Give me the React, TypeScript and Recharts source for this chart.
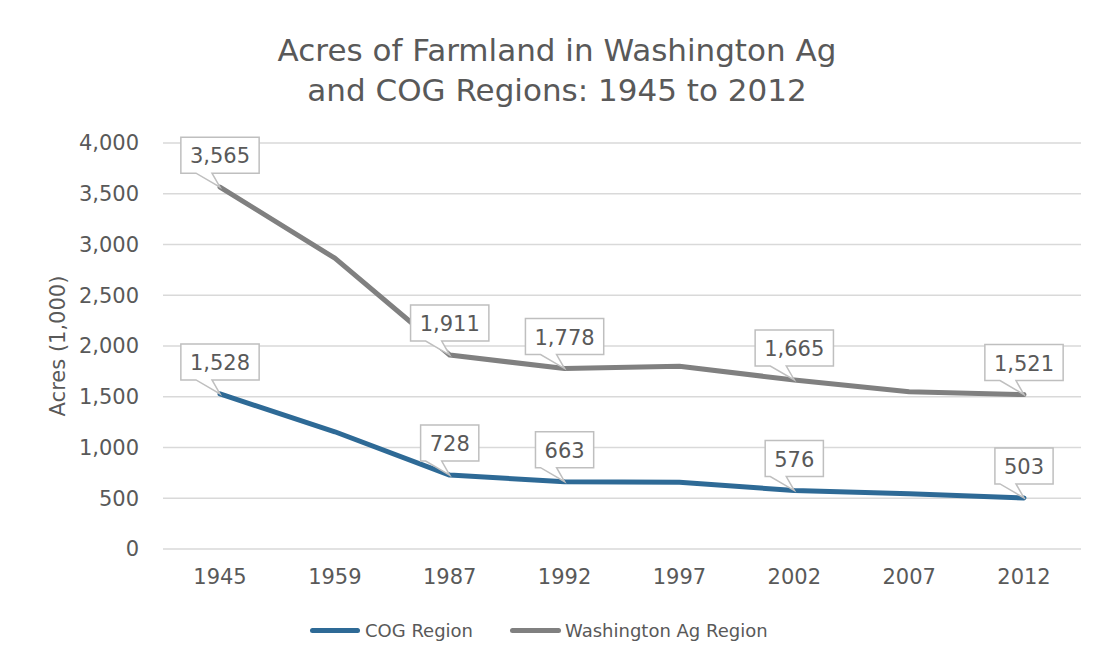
import { LineChart, Line, XAxis, YAxis, CartesianGrid, LabelList } from 'recharts'

const years = ['1945', '1959', '1987', '1992', '1997', '2002', '2007', '2012']
const cogRegion = [1528, 1155, 728, 663, 658, 576, 545, 503]
const washingtonAg = [3565, 2865, 1911, 1778, 1800, 1665, 1550, 1521]
const calloutYears = ['1945', '1987', '1992', '2002', '2012']
const yTicks = [0, 500, 1000, 1500, 2000, 2500, 3000, 3500, 4000]

const data = years.map((year, i) => ({
  year,
  cog: cogRegion[i],
  wa: washingtonAg[i],
}))

const FONT = '"DejaVu Sans", sans-serif'
const TEXT = '#595959'
const BLUE = '#2e6a96'
const GRAY = '#808080'

const fmt = (v: number) => v.toLocaleString('en-US')

// callout box above the point, with a little pointer down to it
function Callout(props: any) {
  const { x, y, value, index } = props
  if (!calloutYears.includes(years[index])) return null
  const text = fmt(value)
  const digits = text.replace(/,/g, '').length
  const commas = text.length - digits
  const w = digits * 13.4 + commas * 6.7 + 18
  const h = 36
  const bottom = y - 14
  const top = bottom - h
  const d = `M${x - w / 2},${top} H${x + w / 2} V${bottom} H${x - 8} L${x},${y} L${x - 24},${bottom} H${x - w / 2} Z`
  return (
    <g>
      <path d={d} fill="#fff" stroke="#bfbfbf" strokeWidth={1.5} />
      <text x={x} y={top + h / 2 + 8} textAnchor="middle" fontSize={21} fill={TEXT} fontFamily={FONT}>
        {text}
      </text>
    </g>
  )
}

export default function App() {
  return (
    <div style={{ position: 'relative', width: 1098, height: 663, margin: -8, overflow: 'hidden', background: '#fff' }}>
      <div
        style={{
          position: 'absolute',
          left: 6,
          top: 3,
          width: 1300,
          height: 900,
          border: '2px solid #d9d9d9',
          borderRadius: 4,
        }}
      />
      <div
        style={{
          position: 'absolute',
          left: 0,
          width: 1114,
          top: 30,
          textAlign: 'center',
          fontFamily: FONT,
          fontSize: 31,
          lineHeight: '40px',
          color: TEXT,
        }}
      >
        Acres of Farmland in Washington Ag
        <br />
        and COG Regions: 1945 to 2012
      </div>
      <div style={{ position: 'absolute', left: 0, top: 0 }}>
        <LineChart width={1098} height={663} data={data} margin={{ top: 143, right: 17, bottom: 84, left: 83 }}>
          <CartesianGrid vertical={false} stroke="#d9d9d9" strokeWidth={1.5} />
          <XAxis
            dataKey="year"
            axisLine={false}
            tickLine={false}
            padding={{ left: 57, right: 57 }}
            tick={{ fill: TEXT, fontSize: 21, fontFamily: FONT }}
            tickMargin={14}
            height={30}
          />
          <YAxis
            domain={[0, 4000]}
            ticks={yTicks}
            tickFormatter={fmt}
            axisLine={false}
            tickLine={false}
            width={80}
            tickMargin={18}
            tick={{ fill: TEXT, fontSize: 21, fontFamily: FONT }}
            label={{
              value: 'Acres (1,000)',
              angle: -90,
              position: 'insideLeft',
              offset: -25,
              style: { textAnchor: 'middle', fill: TEXT, fontSize: 21, fontFamily: FONT },
            }}
          />
          <Line
            dataKey="wa"
            name="Washington Ag Region"
            stroke={GRAY}
            strokeWidth={5}
            strokeLinecap="round"
            strokeLinejoin="round"
            dot={false}
            isAnimationActive={false}
          >
            <LabelList dataKey="wa" content={Callout} />
          </Line>
          <Line
            dataKey="cog"
            name="COG Region"
            stroke={BLUE}
            strokeWidth={5}
            strokeLinecap="round"
            strokeLinejoin="round"
            dot={false}
            isAnimationActive={false}
          >
            <LabelList dataKey="cog" content={Callout} />
          </Line>
        </LineChart>
      </div>
      <div
        style={{
          position: 'absolute',
          top: 620,
          left: 310,
          display: 'flex',
          alignItems: 'center',
          fontFamily: FONT,
          fontSize: 18,
          color: TEXT,
        }}
      >
        <span style={{ width: 50, height: 5, borderRadius: 3, background: BLUE, marginRight: 5 }} />
        <span style={{ marginRight: 37 }}>COG Region</span>
        <span style={{ width: 51, height: 5, borderRadius: 3, background: GRAY, marginRight: 4 }} />
        <span>Washington Ag Region</span>
      </div>
    </div>
  )
}
